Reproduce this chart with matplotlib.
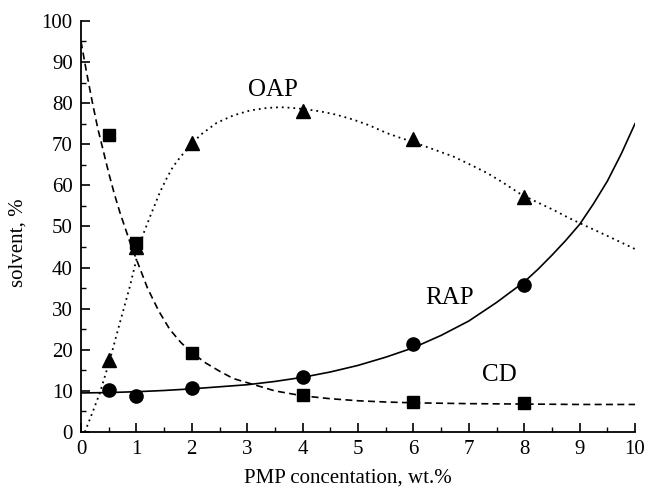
import numpy as np
import matplotlib
matplotlib.use("Agg")
import matplotlib.pyplot as plt
from matplotlib.ticker import MultipleLocator

plt.rcParams['font.family'] = ['Liberation Serif', 'DejaVu Serif']

# measured points
conc = [0.5, 1, 2, 4, 6, 8]
cd = [72.2, 46.0, 19.2, 8.9, 7.4, 7.0]
oap = [17.5, 45.0, 70.3, 78.0, 71.3, 57.2]
rap = [10.3, 8.8, 10.7, 13.3, 21.3, 35.8]

# fitted curves
cd_fit_x = [0, 0.1, 0.2, 0.3, 0.4, 0.5, 0.6, 0.7, 0.8, 0.9, 1.0, 1.2, 1.4, 1.6, 1.8, 2.0,
            2.25, 2.5, 2.75, 3.0, 3.5, 4.0, 4.5, 5.0, 5.5, 6.0, 7.0, 8.0, 9.0, 10.0]
cd_fit_y = [95, 87.5, 80.5, 74, 68.5, 63, 58, 53.5, 49.5, 45.5, 42, 35, 29.5, 25, 21.8, 19.3,
            16.8, 14.8, 13.0, 12.0, 10.0, 8.8, 8.1, 7.6, 7.3, 7.1, 6.9, 6.8, 6.7, 6.7]

oap_fit_x = [0.07, 0.2, 0.34, 0.52, 0.7, 0.88, 1.0, 1.12, 1.25, 1.43, 1.55, 1.66, 1.8, 2.0,
             2.15, 2.45, 2.75, 3.05, 3.35, 3.6, 3.83, 4.05, 4.31, 4.6, 4.91, 5.2, 5.52,
             5.75, 6.0, 6.35, 6.72, 7.0, 7.33, 7.6, 7.92, 8.2, 8.53, 8.8, 9.13, 9.5, 10.0]
oap_fit_y = [0, 4.5, 9.5, 17.5, 26.5, 35.3, 42, 48, 52.5, 58.5, 61.8, 64.5, 67, 70,
             72.2, 75.2, 77, 78.2, 78.8, 79, 78.8, 78.5, 78.0, 77.2, 76, 74.6, 72.7,
             71.6, 70.5, 68.8, 67, 65.2, 63, 60.8, 58, 56.1, 54, 52.1, 50, 47.7, 44.5]

rap_fit_x = [0, 0.5, 1, 1.5, 2, 2.5, 3, 3.5, 4, 4.5, 5, 5.5, 6, 6.5, 7, 7.5, 8,
             8.25, 8.5, 8.75, 9, 9.25, 9.5, 9.75, 10]
rap_fit_y = [9.5, 9.6, 9.8, 10.1, 10.5, 11.0, 11.5, 12.3, 13.3, 14.6, 16.2, 18.2, 20.5,
             23.5, 27, 31.5, 36.5, 39.6, 43, 46.6, 50.5, 55.5, 61, 67.6, 75]

fig = plt.figure(figsize=(6.46, 4.96), dpi=100)
ax = fig.add_axes([0.1254, 0.129, 0.8576, 0.829])

ax.plot(cd_fit_x, cd_fit_y, color='black', lw=1.2, linestyle=(0, (4.2, 2.6)))
ax.plot(oap_fit_x, oap_fit_y, color='black', lw=1.3, linestyle=(0, (1, 2.2)))
ax.plot(rap_fit_x, rap_fit_y, color='black', lw=1.2, linestyle='-')

ax.plot(conc, cd, 's', color='black', ms=8.5)
ax.plot(conc, oap, '^', color='black', ms=10)
ax.plot(conc, rap, 'o', color='black', ms=9.5)

ax.text(3.47, 83.2, 'OAP', fontsize=18, ha='center', va='center')
ax.text(6.66, 32.6, 'RAP', fontsize=18, ha='center', va='center')
ax.text(7.56, 13.9, 'CD', fontsize=18, ha='center', va='center')

ax.set_xlim(0, 10)
ax.set_ylim(0, 100)
ax.xaxis.set_major_locator(MultipleLocator(1))
ax.xaxis.set_minor_locator(MultipleLocator(0.5))
ax.yaxis.set_major_locator(MultipleLocator(10))
ax.yaxis.set_minor_locator(MultipleLocator(5))

ax.spines['top'].set_visible(False)
ax.spines['right'].set_visible(False)
for s in ['left', 'bottom']:
    ax.spines[s].set_linewidth(1.3)
ax.tick_params(which='major', direction='in', length=6.5, width=1.2, labelsize=15, pad=6)
ax.tick_params(which='minor', direction='in', length=3.5, width=1.0)

ax.set_xlabel('PMP concentation, wt.%', fontsize=15)
ax.set_ylabel('solvent, %', fontsize=15)
ax.xaxis.set_label_coords(0.482, -0.088)
ax.yaxis.set_label_coords(-0.097, 0.46)

fig.savefig('out.png', dpi=100)
